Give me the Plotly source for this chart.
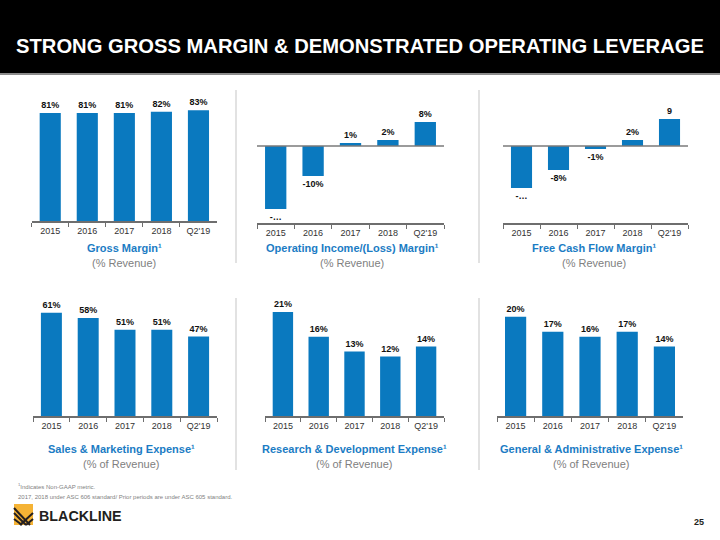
import plotly.graph_objects as go

W, H = 720, 540
categories = ["2015", "2016", "2017", "2018", "Q2'19"]

gross_margin = [81, 81, 81, 82, 83]
gross_labels = ["81%", "81%", "81%", "82%", "83%"]
op_margin = [-21, -10, 1, 2, 8]
op_labels = ["-…", "-10%", "1%", "2%", "8%"]
fcf_margin = [-14, -8, -1, 2, 9]
fcf_labels = ["-…", "-8%", "-1%", "2%", "9"]
sm_expense = [61, 58, 51, 51, 47]
sm_labels = ["61%", "58%", "51%", "51%", "47%"]
rd_expense = [21, 16, 13, 12, 14]
rd_labels = ["21%", "16%", "13%", "12%", "14%"]
ga_expense = [20, 17, 16, 17, 14]
ga_labels = ["20%", "17%", "16%", "17%", "14%"]

titles = ["Gross Margin¹", "Operating Income/(Loss) Margin¹", "Free Cash Flow Margin¹",
          "Sales & Marketing Expense¹", "Research & Development Expense¹", "General & Administrative Expense¹"]
subtitles = ["(% Revenue)", "(% Revenue)", "(% Revenue)",
             "(% of Revenue)", "(% of Revenue)", "(% of Revenue)"]

BLUE = "#0A79BF"
FONT = "Liberation Sans, Arial, sans-serif"

def px_x(v):
    return v / W

def px_y(v):
    return 1 - v / H

panels = [
    dict(vals=gross_margin, text=gross_labels, x=(31.7, 217), y=(221, 95), rng=[0, 94.5], zero=False, tx=124, ty=(248, 263)),
    dict(vals=op_margin, text=op_labels, x=(257, 444), y=(223, 95), rng=[-25.67, 17], zero=True, tx=352, ty=(248, 263)),
    dict(vals=fcf_margin, text=fcf_labels, x=(503, 688), y=(223, 95), rng=[-25.67, 17], zero=True, tx=594, ty=(248, 263)),
    dict(vals=sm_expense, text=sm_labels, x=(33, 217), y=(416, 300), rng=[0, 68.6], zero=False, tx=121, ty=(449, 464)),
    dict(vals=rd_expense, text=rd_labels, x=(265, 444), y=(416, 300), rng=[0, 23.4], zero=False, tx=354, ty=(449, 464)),
    dict(vals=ga_expense, text=ga_labels, x=(497, 683), y=(416, 300), rng=[0, 23.4], zero=False, tx=591, ty=(449, 464)),
]

fig = go.Figure()
shapes = []
annotations = []
layout_axes = {}

for i, p in enumerate(panels, start=1):
    xa = "x" if i == 1 else f"x{i}"
    ya = "y" if i == 1 else f"y{i}"
    fig.add_trace(go.Bar(
        x=categories, y=p["vals"], text=p["text"], textposition="outside",
        textfont=dict(size=9, color="#111111", family=FONT, weight="bold"),
        marker=dict(color=BLUE, line=dict(width=0)),
        cliponaxis=False, xaxis=xa, yaxis=ya, showlegend=False, hoverinfo="skip",
    ))
    xkey = "xaxis" if i == 1 else f"xaxis{i}"
    ykey = "yaxis" if i == 1 else f"yaxis{i}"
    layout_axes[xkey] = dict(
        domain=[px_x(p["x"][0]), px_x(p["x"][1])], anchor=ya, type="category",
        showline=True, linecolor="#6E6E6E", linewidth=1.5,
        ticks="outside", tickson="boundaries", ticklen=4, tickcolor="#6E6E6E", tickwidth=1,
        tickfont=dict(size=9, color="#333333", family=FONT), showgrid=False, fixedrange=True,
    )
    layout_axes[ykey] = dict(
        domain=[px_y(p["y"][0]), px_y(p["y"][1])], anchor=xa, range=p["rng"],
        showticklabels=False, showgrid=False, zeroline=False, showline=False, fixedrange=True,
    )
    if p["zero"]:
        shapes.append(dict(type="line", xref=f"{xa} domain", yref=ya, x0=0, x1=1, y0=0, y1=0,
                           line=dict(color="#7A7A7A", width=1.5), layer="above"))
    annotations.append(dict(text=f"<b>{titles[i-1]}</b>", x=px_x(p["tx"]), y=px_y(p["ty"][0]),
                            xref="paper", yref="paper", showarrow=False, xanchor="center", yanchor="middle",
                            font=dict(size=11, color="#1B7CC4", family=FONT)))
    annotations.append(dict(text=subtitles[i-1], x=px_x(p["tx"]), y=px_y(p["ty"][1]),
                            xref="paper", yref="paper", showarrow=False, xanchor="center", yanchor="middle",
                            font=dict(size=11, color="#808080", family=FONT)))

# header
shapes.append(dict(type="rect", xref="paper", yref="paper", x0=0, x1=1, y0=px_y(73), y1=1,
                   fillcolor="black", line=dict(width=0), layer="below"))
shapes.append(dict(type="line", xref="paper", yref="paper", x0=0, x1=1, y0=px_y(74), y1=px_y(74),
                   line=dict(color="#8C8C8C", width=2)))
annotations.append(dict(text="<b>STRONG GROSS MARGIN & DEMONSTRATED OPERATING LEVERAGE</b>",
                        x=px_x(360), y=px_y(46), xref="paper", yref="paper", showarrow=False,
                        xanchor="center", yanchor="middle",
                        font=dict(size=20.2, color="white", family=FONT)))

# dividers
for xv in (236, 479):
    shapes.append(dict(type="line", xref="paper", yref="paper", x0=px_x(xv), x1=px_x(xv), y0=px_y(263), y1=px_y(90),
                       line=dict(color="#D9D9D9", width=1.5)))
    shapes.append(dict(type="line", xref="paper", yref="paper", x0=px_x(xv), x1=px_x(xv), y0=px_y(470), y1=px_y(298),
                       line=dict(color="#D9D9D9", width=1.5)))

# footnotes
annotations.append(dict(text="<sup>1</sup>Indicates Non-GAAP metric.", x=px_x(16), y=px_y(486), xref="paper", yref="paper",
                        showarrow=False, xanchor="left", yanchor="middle", font=dict(size=6, color="#7F7F7F", family=FONT)))
annotations.append(dict(text="2017, 2018 under ASC 606 standard/ Prior periods are under ASC 605 standard.",
                        x=px_x(16), y=px_y(497), xref="paper", yref="paper",
                        showarrow=False, xanchor="left", yanchor="middle", font=dict(size=6, color="#7F7F7F", family=FONT)))

# logo
shapes.append(dict(type="rect", xref="paper", yref="paper", x0=px_x(14), x1=px_x(33), y0=px_y(525), y1=px_y(504),
                   fillcolor="#F5B335", line=dict(width=0)))
for (a, b, c, d) in [(14, 519, 22, 525), (14, 513, 26, 525), (20, 525, 33, 513), (26, 525, 33, 519), (14, 508, 30, 525)]:
    shapes.append(dict(type="line", xref="paper", yref="paper", x0=px_x(a), x1=px_x(c), y0=px_y(b), y1=px_y(d),
                       line=dict(color="#231F20", width=2)))
annotations.append(dict(text="<b>BLACKLINE</b>", x=px_x(37), y=px_y(516), xref="paper", yref="paper", showarrow=False,
                        xanchor="left", yanchor="middle", font=dict(size=14.3, color="#231F20", family=FONT)))
annotations.append(dict(text="<b>25</b>", x=px_x(706), y=px_y(522), xref="paper", yref="paper", showarrow=False,
                        xanchor="right", yanchor="middle", font=dict(size=9, color="#231F20", family=FONT)))

fig.update_layout(
    width=W, height=H, margin=dict(l=0, r=0, t=0, b=0),
    paper_bgcolor="white", plot_bgcolor="white",
    bargap=0.43, shapes=shapes, annotations=annotations,
    font=dict(family=FONT), **layout_axes,
)

fig.write_html("out.html", config={"displayModeBar": False},
               post_script="document.body.style.margin='0';document.body.style.overflow='hidden';")
